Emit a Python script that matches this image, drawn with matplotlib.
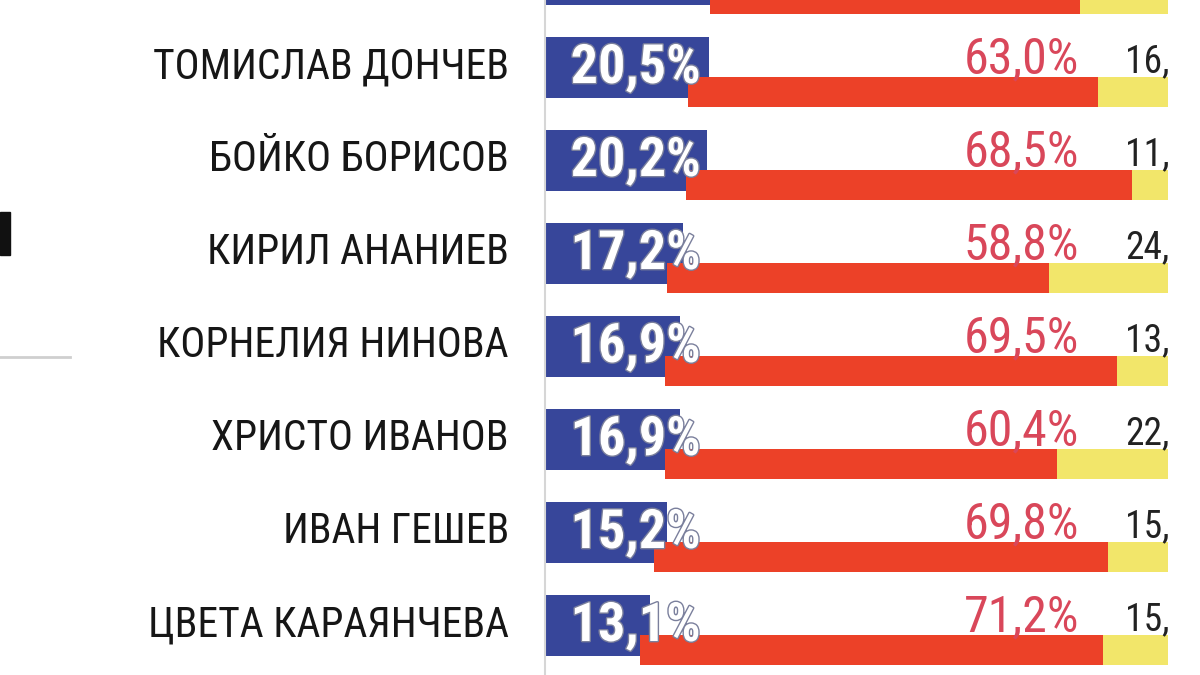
import matplotlib
matplotlib.use("Agg")
import matplotlib.pyplot as plt
import matplotlib.patheffects as pe
from matplotlib import font_manager as fm
from matplotlib.ft2font import FT2Font
from matplotlib.patches import Rectangle
from matplotlib.lines import Line2D

# data (top row is cut off in the picture)
names = ["", "ТОМИСЛАВ ДОНЧЕВ", "БОЙКО БОРИСОВ", "КИРИЛ АНАНИЕВ", "КОРНЕЛИЯ НИНОВА",
         "ХРИСТО ИВАНОВ", "ИВАН ГЕШЕВ", "ЦВЕТА КАРАЯНЧЕВА"]
positive = [23.8, 20.5, 20.2, 17.2, 16.9, 16.9, 15.2, 13.1]
negative = [57.0, 63.0, 68.5, 58.8, 69.5, 60.4, 69.8, 71.2]
no_opinion = [19.2, 16.5, 11.3, 24.0, 13.6, 22.7, 15.0, 15.7]

blue = "#37469a"
red = "#ec4128"
yellow = "#f2e66a"
red_txt = "#d9475a"


def has_cyrillic(path):
    try:
        return FT2Font(path).get_char_index(ord("Д")) != 0
    except Exception:
        return False


# pick a narrow font with Cyrillic letters
prefs = ["Roboto Condensed", "PT Sans Narrow", "Fira Sans Condensed",
         "Open Sans Condensed", "Liberation Sans Narrow"]
font = "Liberation Sans"
for fam in prefs:
    if any(f.name == fam and has_cyrillic(f.fname) for f in fm.fontManager.ttflist):
        font = fam
        break
plt.rcParams["font.family"] = [font, "DejaVu Sans"]

fig = plt.figure(figsize=(12, 6.75), dpi=100)
ax = fig.add_axes([545 / 1200, 0, 623 / 1200, 1])
ax_blue = ax.twiny()

rows = list(range(len(names)))
fmt = lambda v: f"{v:.1f}%".replace(".", ",")

# red + yellow stacked bars (lower part of each row)
left_red = positive
left_yel = [p + n for p, n in zip(positive, negative)]
ax.barh([r + 0.323 for r in rows], negative, left=left_red, height=0.323,
        color=red, zorder=3)
ax.barh([r + 0.323 for r in rows], no_opinion, left=left_yel, height=0.323,
        color=yellow, zorder=3)

# blue label boxes (upper part)
ax_blue.barh([r + 0.059 for r in rows], positive, height=0.656, color=blue, zorder=1)
ax_blue.set_xlim(0, 623 / 8.0)
ax_blue.set_axis_off()

ax.set_zorder(ax_blue.get_zorder() + 1)
ax.patch.set_visible(False)

outline = [pe.withStroke(linewidth=2, foreground="#7a7f9c")]
# the first row's labels are above the picture, so start at 1
for r in rows[1:]:
    ax.text(2.4, r + 0.07, fmt(positive[r]), color="white", fontsize=39,
            fontweight="bold", va="center", ha="left", zorder=5, path_effects=outline)
    ax.text(80.6, r - 0.03, fmt(negative[r]), color=red_txt, fontsize=36,
            va="center", ha="right", zorder=5)
    # only the start of the third value is visible at the right edge
    ax.text(87.7, r + 0.0, fmt(no_opinion[r]).split(",")[0] + ",", color="#222222",
            fontsize=27, va="center", ha="left", zorder=5)

ax.set_yticks(rows)
ax.set_yticklabels(names, fontsize=30, color="#161616")
ax.set_xlim(-1.54, 94.3)
ax.set_ylim(1 + (675 - 62) / 93, 1 - 62 / 93)
ax.tick_params(axis="y", length=0, pad=26)
ax.set_xticks([])
for s in ["top", "right", "bottom"]:
    ax.spines[s].set_visible(False)
ax.spines["left"].set_color("#d6d6d6")
ax.spines["left"].set_linewidth(1.5)

# fragments of the neighbouring graphic on the left
fig.add_artist(Rectangle((0, 1 - 255 / 675), 10 / 1200, 43 / 675,
                         transform=fig.transFigure, color="#111111"))
fig.add_artist(Line2D([0, 70 / 1200], [1 - 357 / 675] * 2, transform=fig.transFigure,
                      color="#cfcfcf", lw=2))

fig.savefig("out.png", dpi=100)
